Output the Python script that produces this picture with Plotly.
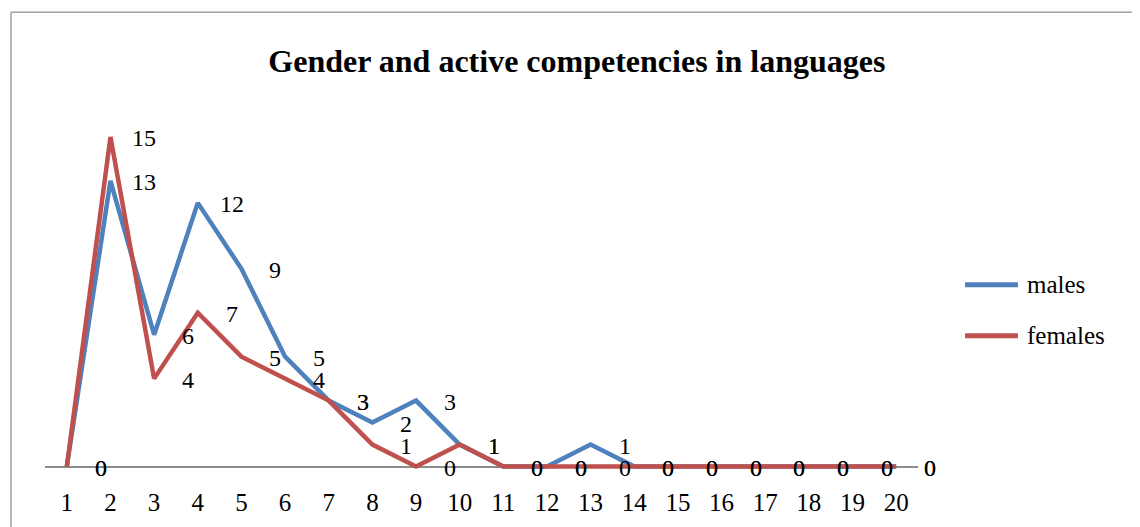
import plotly.graph_objects as go

categories = list(range(1, 21))
males = [0, 13, 6, 12, 9, 5, 3, 2, 3, 1, 0, 0, 1, 0, 0, 0, 0, 0, 0, 0]
females = [0, 15, 4, 7, 5, 4, 3, 1, 0, 1, 0, 0, 0, 0, 0, 0, 0, 0, 0, 0]
series_names = ["males", "females"]
series_colors = ["#4F81BD", "#C0504D"]
title = "Gender and active competencies in languages"
FONT = "Liberation Serif"

fig = go.Figure()
for name, vals, col in zip(series_names, (males, females), series_colors):
    fig.add_trace(go.Scatter(x=categories, y=vals, mode="lines", name=name,
                             line=dict(color=col, width=4.5), showlegend=False))

annotations = []
for series in (males, females):
    for c, v in zip(categories, series):
        annotations.append(dict(x=c, y=v, xref="x", yref="y", text=str(v),
                                showarrow=False, xanchor="center", yanchor="middle",
                                xshift=34, yshift=-1,
                                font=dict(family=FONT, size=24, color="black")))

# legend drawn as line samples + labels
shapes = [dict(type="rect", xref="paper", yref="paper", x0=-0.0389, x1=1.26,
               y0=-0.3, y1=1.288, line=dict(color="#A0A0A0", width=1.5),
               fillcolor="rgba(0,0,0,0)", layer="below")]
legend_y = [0.5245, 0.3818]
for name, col, ly in zip(series_names, series_colors, legend_y):
    shapes.append(dict(type="line", xref="paper", yref="paper", x0=1.0539, x1=1.1145,
                       y0=ly, y1=ly, line=dict(color=col, width=5)))
    annotations.append(dict(x=1.1226, y=ly, xref="paper", yref="paper", text=name,
                            showarrow=False, xanchor="left", yanchor="middle",
                            font=dict(family=FONT, size=25, color="black")))

fig.update_layout(
    width=1140, height=527,
    margin=dict(l=37, r=230, t=107, b=63),
    paper_bgcolor="white", plot_bgcolor="white",
    showlegend=False,
    title=dict(text="<b>" + title + "</b>", x=0.499, xanchor="center", y=0.9, yanchor="middle",
               font=dict(family=FONT, size=32, color="black")),
    xaxis=dict(range=[0.5, 20.5], tickmode="array", tickvals=categories,
               ticktext=[str(c) for c in categories], showgrid=False, showline=False,
               zeroline=False, ticks="", ticklabelstandoff=13,
               tickfont=dict(family=FONT, size=25, color="black")),
    yaxis=dict(range=[-0.25, 16], visible=True, showticklabels=False, showgrid=False,
               showline=False, ticks="", zeroline=True, zerolinecolor="#8C8C8C",
               zerolinewidth=2),
    annotations=annotations,
    shapes=shapes,
)

fig.write_html("out.html")
